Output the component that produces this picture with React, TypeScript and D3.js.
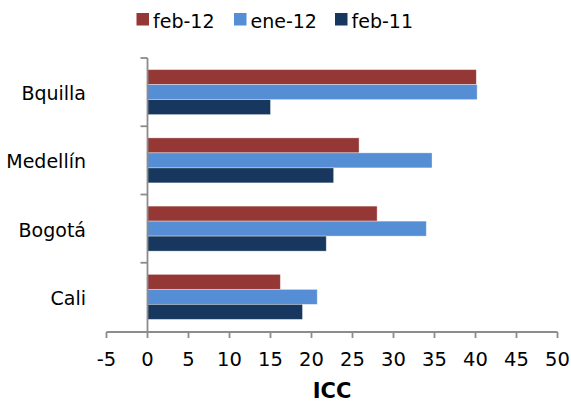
import React from "react";
import * as d3 from "d3";

const categories = ["Bquilla", "Medellín", "Bogotá", "Cali"];
const seriesNames = ["feb-12", "ene-12", "feb-11"];
const feb12 = [40.1, 25.8, 28.0, 16.2];
const ene12 = [40.2, 34.7, 34.0, 20.7];
const feb11 = [15.0, 22.7, 21.8, 18.9];
const seriesValues = [feb12, ene12, feb11];
const seriesColors = ["#953735", "#558ED5", "#17375E"];
const xTicks = [-5, 0, 5, 10, 15, 20, 25, 30, 35, 40, 45, 50];
const xTitle = "ICC";

const W = 571;
const H = 405;
const FONT = "'DejaVu Sans', Verdana, sans-serif";
const AXIS = "#8c8c8c";

export default function App() {
  const x = d3.scaleLinear().domain([-5, 50]).range([106.5, 557.5]);
  const y0 = d3.scaleBand<string>().domain(categories).range([58, 331]).padding(0);
  const y1 = d3
    .scaleBand<string>()
    .domain(seriesNames)
    .range([0, y0.bandwidth()])
    .paddingInner(0)
    .paddingOuter(0.775);
  const axisY = 332;
  const bandEdges = categories.map((c) => y0(c) as number).concat([y0.range()[1]]);
  const legendX = [136.5, 234, 335];

  return (
    <svg
      width={W}
      height={H}
      style={{ position: "absolute", left: 0, top: 0, background: "#fff" }}
      fontFamily={FONT}
    >
      {/* bars */}
      {categories.map((c, ci) =>
        seriesNames.map((s, si) => {
          const v = seriesValues[si][ci];
          const x0 = x(0);
          return (
            <rect
              key={c + s}
              x={x0}
              y={(y0(c) as number) + (y1(s) as number)}
              width={x(v) - x0}
              height={y1.bandwidth()}
              fill={seriesColors[si]}
              stroke="#ffffff"
              strokeOpacity={0.45}
              strokeWidth={0.8}
            />
          );
        })
      )}

      {/* y axis */}
      <line x1={x(0)} x2={x(0)} y1={58} y2={axisY} stroke={AXIS} strokeWidth={1.8} />
      {bandEdges.slice(0, 4).map((yy, i) => (
        <line key={"yt" + i} x1={x(0) - 7} x2={x(0)} y1={yy} y2={yy} stroke={AXIS} strokeWidth={1.8} />
      ))}
      {categories.map((c) => (
        <text
          key={"yl" + c}
          x={86}
          y={(y0(c) as number) + y0.bandwidth() / 2 + 8}
          textAnchor="end"
          fontSize={19}
          fill="#000"
        >
          {c}
        </text>
      ))}

      {/* x axis */}
      <line x1={x(-5)} x2={x(50)} y1={axisY} y2={axisY} stroke={AXIS} strokeWidth={1.8} />
      {xTicks.map((t) => (
        <g key={"xt" + t}>
          <line x1={x(t)} x2={x(t)} y1={axisY} y2={axisY + 6} stroke={AXIS} strokeWidth={1.8} />
          <text x={x(t)} y={366} textAnchor="middle" fontSize={19.5} fill="#000">
            {t}
          </text>
        </g>
      ))}
      <text
        x={(x(-5) + x(50)) / 2}
        y={398}
        textAnchor="middle"
        fontSize={21}
        fontWeight="bold"
        fill="#000"
      >
        {xTitle}
      </text>

      {/* legend */}
      {seriesNames.map((s, i) => (
        <g key={"lg" + s}>
          <rect x={legendX[i]} y={13} width={12.5} height={12.5} fill={seriesColors[i]} />
          <text x={legendX[i] + 16.5} y={27.5} fontSize={19} fill="#000">
            {s}
          </text>
        </g>
      ))}
    </svg>
  );
}
